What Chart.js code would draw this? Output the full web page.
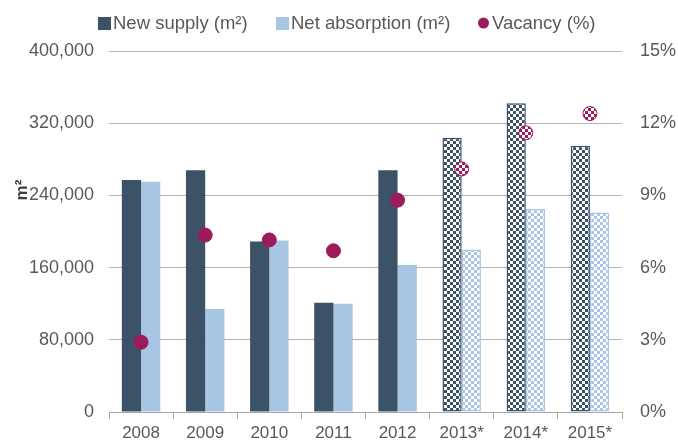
<!DOCTYPE html>
<html>
<head>
<meta charset="utf-8">
<script src="https://cdn.jsdelivr.net/npm/chart.js@4/dist/chart.umd.min.js"></script>
<style>
  html, body { margin: 0; padding: 0; background: #fff; }
  #wrap { width: 678px; height: 441px; }
</style>
</head>
<body>
<div id="wrap"><canvas id="officeChart"></canvas></div>
<script>
var years = ['2008', '2009', '2010', '2011', '2012', '2013*', '2014*', '2015*'];
var newSupply = [257000, 268000, 189000, 121000, 268000, 304000, 342000, 295000];
var netAbsorption = [255000, 114000, 190000, 120000, 163000, 180000, 225000, 221000];
var vacancy = [2.9, 7.35, 7.15, 6.7, 8.8, 10.1, 11.6, 12.4];
var forecast = [false, false, false, false, false, true, true, true];
var leftTicks = [0, 80000, 160000, 240000, 320000, 400000];
var rightTicks = [0, 3, 6, 9, 12, 15];

var darkBlue = '#3b5267';
var lightBlue = '#a8c5e3';
var crimson = '#9c1b5b';
var textGrey = '#595959';

function checker(color) {
    var c = document.createElement('canvas');
    c.width = 6;
    c.height = 6;
    var g = c.getContext('2d');
    g.fillStyle = '#ffffff';
    g.fillRect(0, 0, 6, 6);
    g.fillStyle = color;
    g.fillRect(0, 0, 3, 3);
    g.fillRect(3, 3, 3, 3);
    return g.createPattern(c, 'repeat');
}

var darkFill = forecast.map(function (f) { return f ? checker(darkBlue) : darkBlue; });
var lightFill = forecast.map(function (f) { return f ? checker(lightBlue) : lightBlue; });
var dotFill = forecast.map(function (f) { return f ? checker(crimson) : crimson; });
var edge = forecast.map(function (f) { return f ? 1.5 : 0; });

// legend + y unit drawn by hand, the built-in legend spaces items too wide
var extras = {
    id: 'extras',
    afterDraw: function (chart) {
        var c = chart.ctx;
        c.save();
        c.font = '18.5px "Liberation Sans"';
        c.textBaseline = 'middle';
        c.textAlign = 'left';
        var items = [
            { text: 'New supply (m²)', color: darkBlue, round: false, x: 98 },
            { text: 'Net absorption (m²)', color: lightBlue, round: false, x: 276 },
            { text: 'Vacancy (%)', color: crimson, round: true, x: 478 }
        ];
        var y = 23;
        items.forEach(function (it) {
            c.fillStyle = it.color;
            if (it.round) {
                c.beginPath();
                c.arc(it.x + 5.5, y, 5.5, 0, Math.PI * 2);
                c.fill();
            } else {
                c.fillRect(it.x, y - 6, 13, 13);
            }
            c.fillStyle = textGrey;
            c.fillText(it.text, it.x + (it.round ? 14 : 15), y + 1);
        });

        c.translate(22, 190);
        c.rotate(-Math.PI / 2);
        c.fillStyle = '#404040';
        c.font = 'bold 17px "Liberation Sans"';
        c.textAlign = 'center';
        c.fillText('m²', 0, 0);
        c.restore();
    }
};

var ctx = document.getElementById('officeChart').getContext('2d');
var officeChart = new Chart(ctx, {
    type: 'bar',
    data: {
        labels: years,
        datasets: [{
            label: 'Vacancy (%)',
            type: 'line',
            data: vacancy,
            yAxisID: 'y2',
            showLine: false,
            pointRadius: 7,
            pointHoverRadius: 7,
            pointBackgroundColor: dotFill,
            pointBorderColor: crimson,
            pointBorderWidth: 1,
            order: 0
        }, {
            label: 'New supply (m²)',
            data: newSupply,
            yAxisID: 'y',
            backgroundColor: darkFill,
            borderColor: darkBlue,
            borderWidth: edge,
            borderSkipped: false,
            barPercentage: 1,
            categoryPercentage: 0.6,
            order: 1
        }, {
            label: 'Net absorption (m²)',
            data: netAbsorption,
            yAxisID: 'y',
            backgroundColor: lightFill,
            borderColor: lightBlue,
            borderWidth: edge,
            borderSkipped: false,
            barPercentage: 1,
            categoryPercentage: 0.6,
            order: 1
        }]
    },
    options: {
        responsive: true,
        maintainAspectRatio: false,
        animation: false,
        layout: { padding: { top: 51, right: 0, bottom: 0, left: 0 } },
        scales: {
            x: {
                afterFit: function (axis) { axis.height = 29; },
                grid: { display: true, drawOnChartArea: false, offset: true, tickLength: 7, color: '#a6a6a6' },
                border: { color: '#a6a6a6' },
                ticks: { color: textGrey, font: { family: 'Liberation Sans', size: 17 }, padding: 4 }
            },
            y: {
                position: 'left',
                min: 0,
                max: 400000,
                afterBuildTicks: function (axis) {
                    axis.ticks = leftTicks.map(function (v) { return { value: v }; });
                },
                afterFit: function (axis) { axis.width = 109; },
                grid: { color: '#b3b3b3', drawTicks: false },
                border: { display: false },
                ticks: {
                    color: textGrey,
                    font: { family: 'Liberation Sans', size: 18 },
                    padding: 15,
                    callback: function (v) { return v.toLocaleString('en-US'); }
                }
            },
            y2: {
                position: 'right',
                min: 0,
                max: 15,
                afterBuildTicks: function (axis) {
                    axis.ticks = rightTicks.map(function (v) { return { value: v }; });
                },
                afterFit: function (axis) { axis.width = 56; },
                grid: { display: false, drawTicks: false },
                border: { display: false },
                ticks: {
                    color: textGrey,
                    font: { family: 'Liberation Sans', size: 18 },
                    padding: 18,
                    callback: function (v) { return v + '%'; }
                }
            }
        },
        plugins: {
            tooltip: { enabled: false },
            legend: { display: false }
        }
    },
    plugins: [extras]
});
</script>
</body>
</html>
